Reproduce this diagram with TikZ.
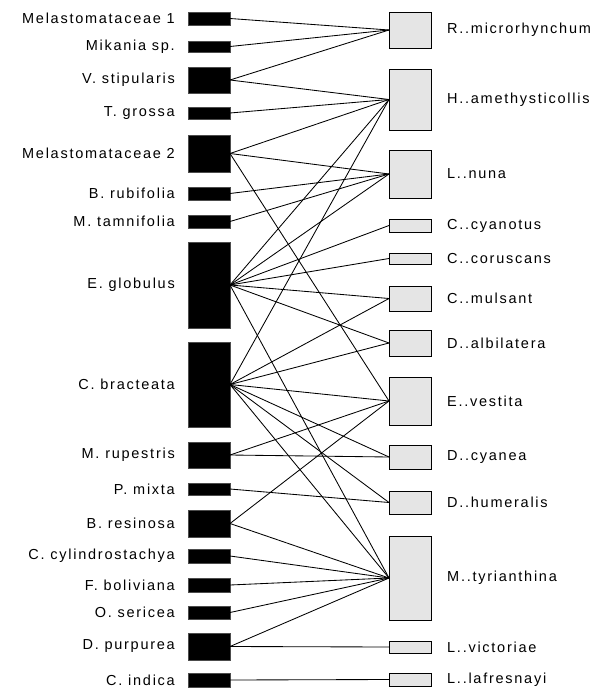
\documentclass[tikz,border=0pt]{standalone}
\usepackage{fontspec}
\setmainfont{Liberation Sans}[LetterSpace=12]
\begin{document}
\begin{tikzpicture}[x=1pt,y=-1pt,
  lbox/.style={rectangle,fill=black,draw=black!70,line width=0.4pt,
    minimum width=42pt,inner sep=0pt,outer sep=0pt},
  rbox/.style={rectangle,fill=black!10,draw=black,line width=0.9pt,
    minimum width=42pt,inner sep=0pt,outer sep=0pt},
  llab/.style={anchor=east,inner sep=0pt,font=\fontsize{14.5}{16}\selectfont},
  rlab/.style={anchor=west,inner sep=0pt,font=\fontsize{14.5}{16}\selectfont},
  link/.style={draw=black,line width=0.85pt}]
\useasboundingbox (0,0) rectangle (594,690);

% plants (left column): name / top / bottom / label
\foreach \n/\t/\b/\txt in {
  mela1/12/25/Melastomataceae 1,
  mikania/41/52/Mikania sp.,
  vstip/67/93/V. stipularis,
  tgrossa/107/119/T. grossa,
  mela2/135/172/Melastomataceae 2,
  brub/187/200/B. rubifolia,
  mtamn/215/228/M. tamnifolia,
  eglob/242/328/E. globulus,
  cbrac/342/427/C. bracteata,
  mrup/442/468/M. rupestris,
  pmix/483/495/P. mixta,
  bres/510/537/B. resinosa,
  ccyl/549/563/C. cylindrostachya,
  fbol/578/592/F. boliviana,
  oser/606/619/O. sericea,
  dpur/633/660/D. purpurea,
  cind/673/687/C. indica}{
  \pgfmathsetmacro\h{\b-\t}
  \pgfmathsetmacro\c{(\t+\b)/2}
  \node[lbox,minimum height=\h pt] (\n) at (209,\c) {};
  \node[llab] (\n-lab) at (175,\c) {\txt};
}

% hummingbirds (right column): name / top / bottom / label
\foreach \n/\t/\b/\txt in {
  rmic/12/48/R..microrhynchum,
  hame/69/130/H..amethysticollis,
  lnun/150/198/L..nuna,
  ccya/219/232/C..cyanotus,
  ccor/253/264/C..coruscans,
  cmul/286/311/C..mulsant,
  dalb/330/356/D..albilatera,
  eves/377/425/E..vestita,
  dcya/445/469/D..cyanea,
  dhum/491/514/D..humeralis,
  mtyr/536/620/M..tyrianthina,
  lvic/641/653/L..victoriae,
  llaf/673/686/L..lafresnayi}{
  \pgfmathsetmacro\h{\b-\t}
  \pgfmathsetmacro\c{(\t+\b)/2}
  \node[rbox,minimum height=\h pt] (\n) at (410,\c) {};
  \node[rlab] (\n-lab) at (447,\c) {\txt};
}

% interactions
\foreach \a/\b in {
  mela1/rmic, mikania/rmic, vstip/rmic, vstip/hame, tgrossa/hame,
  mela2/hame, mela2/lnun, mela2/eves,
  brub/lnun, mtamn/lnun,
  eglob/hame, eglob/lnun, eglob/ccya, eglob/ccor, eglob/cmul, eglob/dalb, eglob/mtyr,
  cbrac/hame, cbrac/cmul, cbrac/dalb, cbrac/eves, cbrac/dcya, cbrac/dhum, cbrac/mtyr,
  mrup/eves, mrup/dcya, pmix/dhum, bres/eves, bres/mtyr,
  ccyl/mtyr, fbol/mtyr, oser/mtyr, dpur/mtyr, dpur/lvic, cind/llaf}{
  \draw[link] (\a.east) -- (\b.west);
}
\end{tikzpicture}
\end{document}
